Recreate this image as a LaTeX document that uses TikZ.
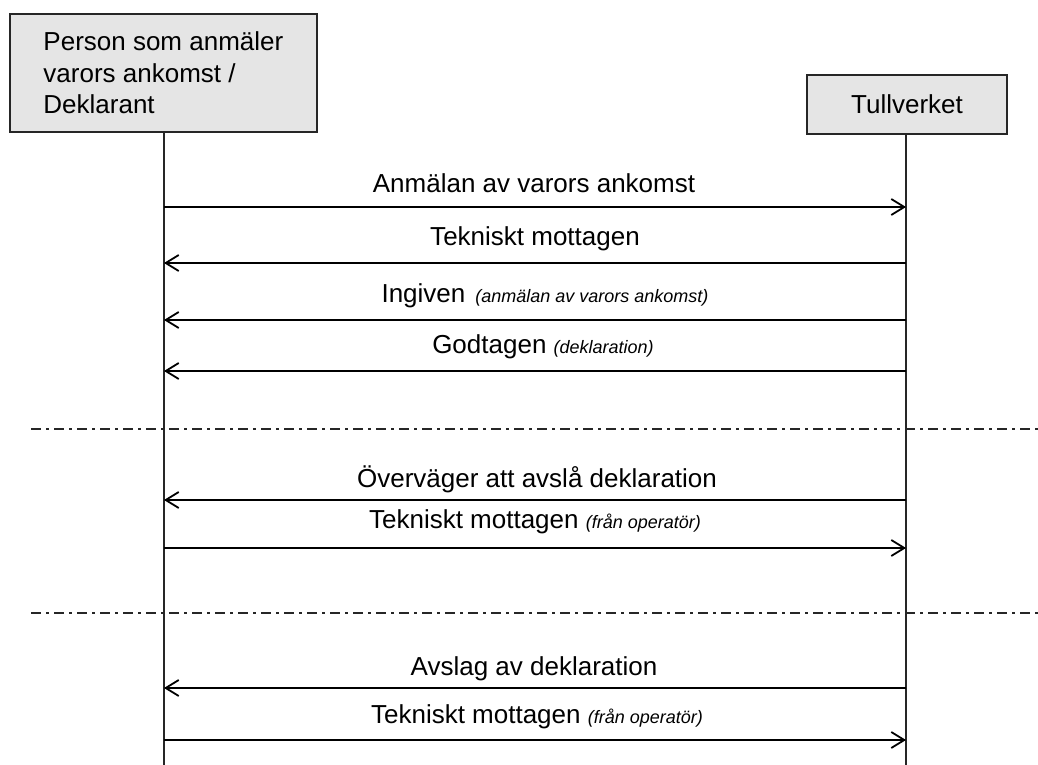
\documentclass[tikz,border=0pt]{standalone}
\usepackage{fontspec}
\setmainfont{Liberation Sans}
\usetikzlibrary{arrows.meta}
\newcommand\mynote[1]{{\fontsize{18}{21}\selectfont\itshape #1}}
\begin{document}
\begin{tikzpicture}[x=1pt,y=-1pt,
  actor/.style={draw=black!85, line width=1.8pt, fill=black!10, rectangle, inner sep=0pt},
  lifeline/.style={draw=black!85, line width=1.8pt},
  msg/.style={draw=black, line width=1.8pt, -{Straight Barb[length=13pt,width=16pt,line width=1.8pt]}},
  sep/.style={draw=black!85, line width=1.8pt, dash pattern=on 10pt off 5pt on 3pt off 5pt},
  lbl/.style={anchor=base, inner sep=0pt, font=\fontsize{26}{31}\selectfont}
]
\useasboundingbox (0,0) rectangle (1038,765);

% actors
\node[actor, anchor=north west, minimum width=307pt, minimum height=118pt,
      align=left, font=\fontsize{26}{31.5}\selectfont] (p) at (9,13)
  {Person som anmäler\\varors ankomst /\\Deklarant};
\node[actor, minimum width=200pt, minimum height=59pt, font=\fontsize{26}{31}\selectfont] (t) at (907,104.5) {Tullverket};

% lifelines
\coordinate (pend) at (164,765);
\coordinate (tend) at (906,765);
\draw[lifeline] (p.south -| pend) -- (pend);
\draw[lifeline] (t.south -| tend) -- (tend);

% message end points
\foreach \n/\y in {1/207,2/263,3/320,4/371,5/500,6/548,7/688,8/740}{
  \coordinate (L\n) at (164,\y);
  \coordinate (R\n) at (906,\y);
}

% separators
\coordinate (s1a) at (31,429); \coordinate (s1b) at (1038,429);
\coordinate (s2a) at (31,613); \coordinate (s2b) at (1038,613);
\draw[sep] (s1a) -- (s1b);
\draw[sep] (s2a) -- (s2b);

% messages
\draw[msg] (L1) -- (R1);
\draw[msg] (R2) -- (L2);
\draw[msg] (R3) -- (L3);
\draw[msg] (R4) -- (L4);
\draw[msg] (R5) -- (L5);
\draw[msg] (L6) -- (R6);
\draw[msg] (R7) -- (L7);
\draw[msg] (L8) -- (R8);

% labels
\node[lbl] (m1) at (534,192) {Anmälan av varors ankomst};
\node[lbl] (m2) at (535,245) {Tekniskt mottagen};
\node[lbl] (m3) at (545,302) {Ingiven\hspace{10pt}\mynote{(anmälan av varors ankomst)}};
\node[lbl] (m4) at (543,353) {Godtagen \mynote{(deklaration)}};
\node[lbl] (m5) at (537,487) {Överväger att avslå deklaration};
\node[lbl] (m6) at (535,528) {Tekniskt mottagen \mynote{(från operatör)}};
\node[lbl] (m7) at (534,675) {Avslag av deklaration};
\node[lbl] (m8) at (537,723) {Tekniskt mottagen \mynote{(från operatör)}};
\end{tikzpicture}
\end{document}
